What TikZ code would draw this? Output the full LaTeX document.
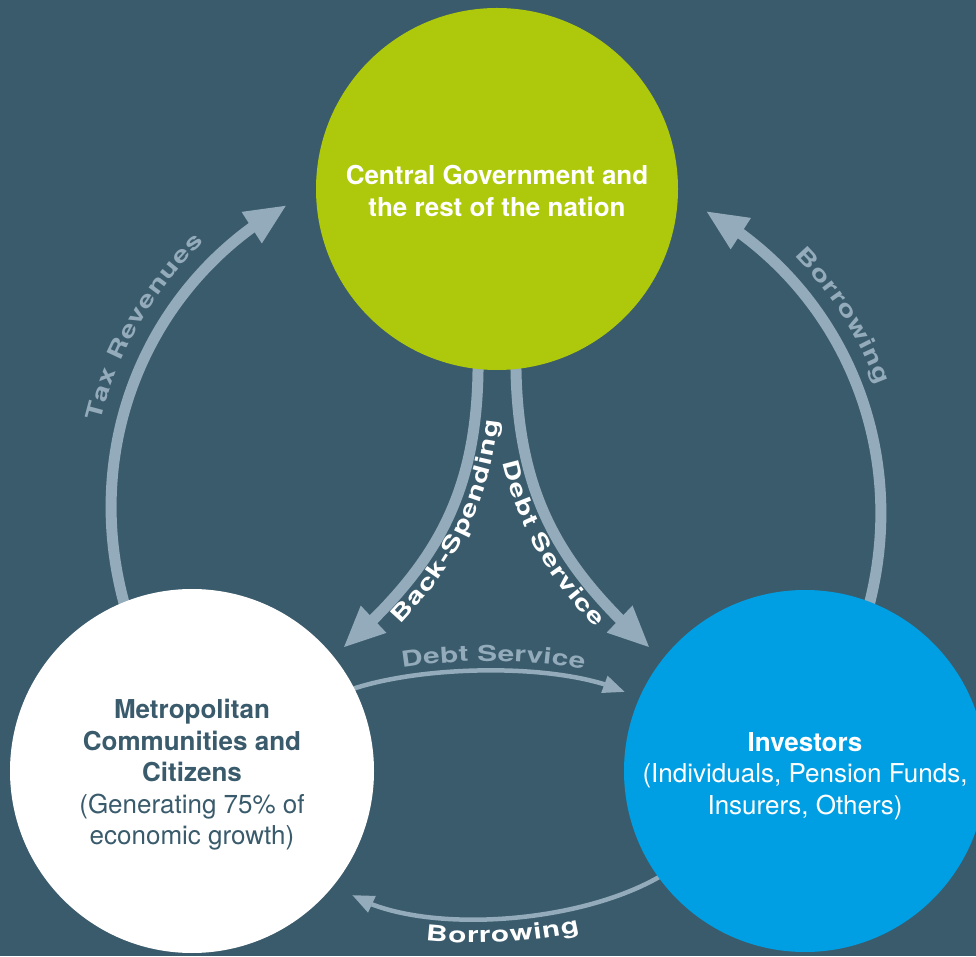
\documentclass[tikz,border=0pt]{standalone}
\usepackage{fontspec}
\setmainfont{TeX Gyre Heros}
\newfontfamily\lblfont[FakeStretch=1.35]{TeX Gyre Heros}
\newcommand\lblfmt{\lblfont\bfseries\fontsize{22}{22}\selectfont}
\usetikzlibrary{arrows.meta,bending,decorations.text}
\definecolor{bg}{HTML}{3A5B6C}
\definecolor{lime}{HTML}{AEC90B}
\definecolor{sky}{HTML}{009FE3}
\definecolor{arr}{HTML}{93ABBA}
\pgfdeclarelayer{background}
\pgfsetlayers{background,main}
\tikzset{
  hub/.style={circle, minimum size=362pt, inner sep=0pt, align=center, font=\fontsize{26}{31.5}\selectfont},
  bigarrow/.style={draw=arr, line width=11pt, shorten <=-6pt, -{Triangle[length=42pt,width=34pt]}},
  smallarrow/.style={draw=arr, line width=4.5pt, shorten <=-6pt, -{Triangle[length=22pt,width=17pt]}},
}
\begin{document}
\begin{tikzpicture}[x=1pt,y=1pt]
\useasboundingbox (0,0) rectangle (976,956);
\node[hub, fill=lime, text=white, font=\fontsize{26}{31.5}\selectfont\bfseries] (cg) at (497,767) {\rule{0pt}{23pt}Central Government and\\the rest of the nation};
\node[hub, fill=white, text=bg, minimum size=364pt] (met) at (192,185) {\rule{0pt}{27pt}\textbf{Metropolitan}\\\textbf{Communities and}\\\textbf{Citizens}\\(Generating 75\% of\\economic growth)};
\node[hub, fill=sky, text=white] (inv) at (805,185) {\rule{0pt}{29pt}\textbf{Investors}\\(Individuals, Pension Funds,\\Insurers, Others)};
\coordinate (lc) at (456.4,448.6);
\coordinate (rc) at (535.1,443.8);
\coordinate (bsend) at (343,308);
\coordinate (dsend) at (650,308);
\coordinate (mdend) at (625,264);
\coordinate (bbend) at (352,61);
\begin{pgfonlayer}{background}
\fill[bg] (0,0) rectangle (976,956);
\draw[bigarrow] (met.112) arc[start angle=196, end angle=119.3, radius=346];
\draw[bigarrow] (inv.69) arc[start angle=-14.9, end angle=60.5, radius=346.8];
\draw[bigarrow] (cg.264) .. controls (478,456) and (430,386) .. (bsend);
\draw[bigarrow] (cg.276) .. controls (517,456) and (564,386) .. (dsend);
\draw[smallarrow] (met.27) .. controls (420,291) and (560,294) .. (mdend);
\draw[smallarrow] (inv.216) .. controls (580,31) and (420,21) .. (bbend);
\end{pgfonlayer}
\path[decorate, decoration={text along path, text align=center, raise=20pt, text color=arr, text={|\lblfmt|Tax Revenues}}]
  ([shift={(196:346)}]lc) arc[start angle=196, end angle=104, radius=346];
\path[decorate, decoration={text along path, text align=center, raise=18pt, text color=arr, text={|\lblfmt|Borrowing}}]
  ([shift={(65:346.8)}]rc) arc[start angle=65, end angle=0, radius=346.8];
\path[decorate, decoration={text along path, text align={center, left indent=8pt}, raise=-23pt, text color=white, text={|\lblfmt|Back-Spending}}]
  (bsend) .. controls (430,386) and (478,456) .. (cg.264);
\path[decorate, decoration={text along path, text align={center, left indent=36pt}, raise=-23pt, text color=white, text={|\lblfmt|Debt Service}}]
  (cg.276) .. controls (517,456) and (564,386) .. (dsend);
\path[decorate, decoration={text along path, text align={center, left indent=6pt}, raise=9pt, text color=arr, text={|\lblfmt|Debt Service}}]
  (met.27) .. controls (420,291) and (560,294) .. (mdend);
\path[decorate, decoration={text along path, text align={center, right indent=10pt}, raise=-23pt, text color=white, text={|\lblfmt|Borrowing}}]
  (bbend) .. controls (420,21) and (580,31) .. (inv.216);
\end{tikzpicture}
\end{document}
